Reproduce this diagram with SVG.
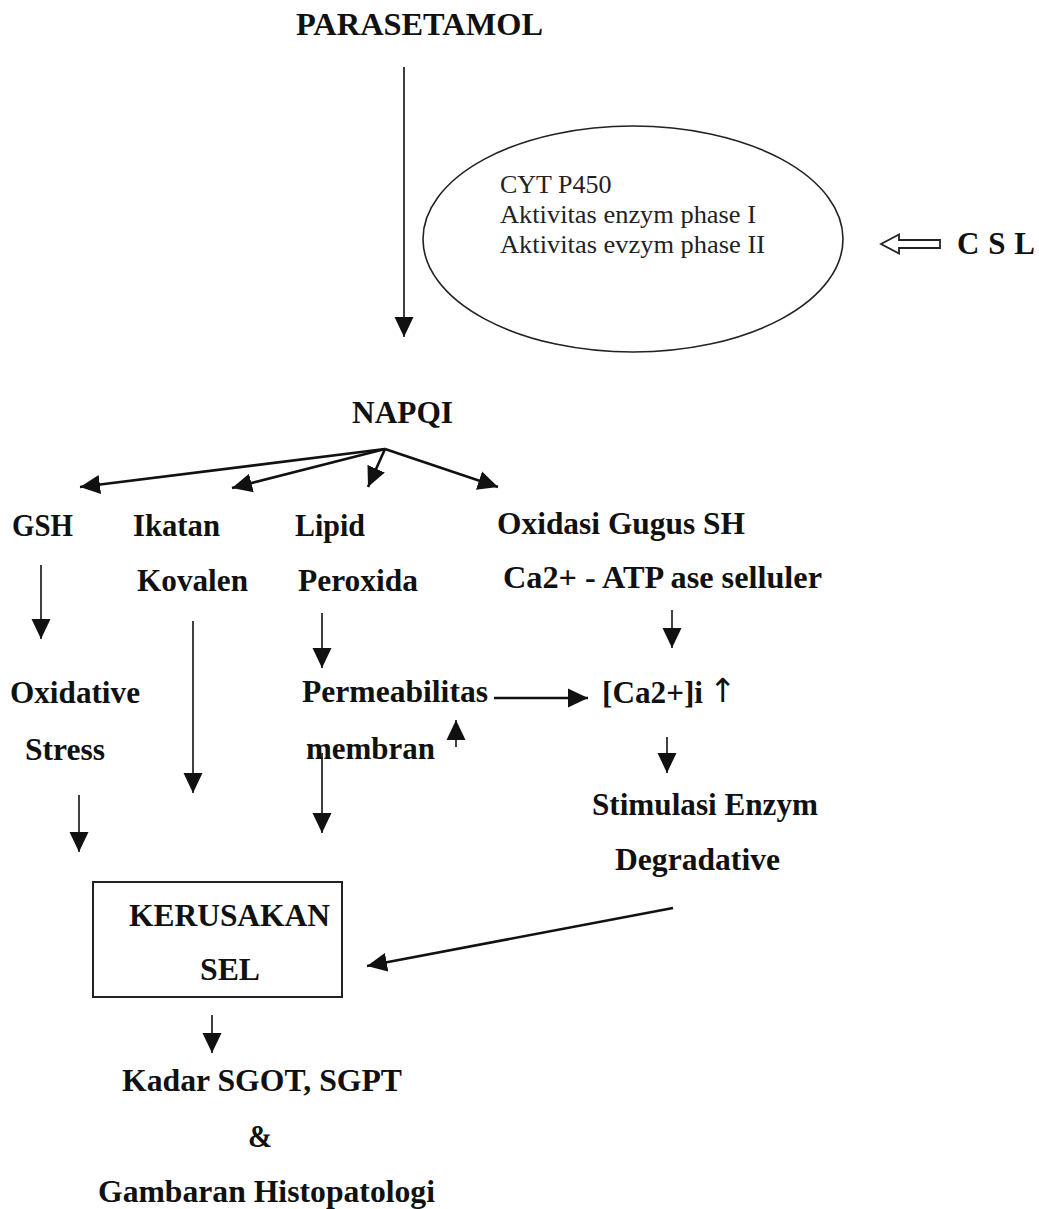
<svg xmlns="http://www.w3.org/2000/svg" width="1039" height="1209" viewBox="0 0 1039 1209">
<style>
.b{font-family:"Liberation Serif","Times New Roman",serif;font-weight:bold;font-size:31px;fill:#111}
.r{font-family:"Liberation Serif","Times New Roman",serif;font-size:26px;fill:#222}
.ln{stroke:#111;stroke-width:1.6;fill:none}
.th{stroke:#111;stroke-width:2.6;fill:none}
</style>
<defs>
<marker id="ah" viewBox="0 0 20 20" refX="20" refY="10" markerWidth="20" markerHeight="20" markerUnits="userSpaceOnUse" orient="auto"><path d="M0,0.5 L20,10 L0,19.5 z" fill="#111"/></marker>
</defs>
<rect width="1039" height="1209" fill="#fff"/>

<g id="parasetamol"><text class="b" x="296" y="35" font-size="32" textLength="247" lengthAdjust="spacingAndGlyphs">PARASETAMOL</text></g>

<g id="enzim">
<ellipse cx="633" cy="239" rx="210" ry="113" fill="none" stroke="#222" stroke-width="1.6"/>
<text class="r" x="500" y="193">CYT P450</text>
<text class="r" x="500" y="223" textLength="256" lengthAdjust="spacingAndGlyphs">Aktivitas enzym phase I</text>
<text class="r" x="500" y="253" textLength="265" lengthAdjust="spacingAndGlyphs">Aktivitas evzym phase II</text>
</g>

<g id="csl"><text class="b" x="957" y="254" font-size="29" textLength="78" lengthAdjust="spacing">C S L</text></g>

<g id="napqi"><text class="b" x="352" y="423" textLength="101" lengthAdjust="spacingAndGlyphs">NAPQI</text></g>

<g id="gsh"><text class="b" x="12" y="536" textLength="61" lengthAdjust="spacingAndGlyphs">GSH</text></g>
<g id="ikatan">
<text class="b" x="133" y="536" textLength="87" lengthAdjust="spacingAndGlyphs">Ikatan</text>
<text class="b" x="137" y="591" textLength="111" lengthAdjust="spacingAndGlyphs">Kovalen</text>
</g>
<g id="lipid">
<text class="b" x="295" y="536" textLength="70" lengthAdjust="spacingAndGlyphs">Lipid</text>
<text class="b" x="298" y="591" textLength="120" lengthAdjust="spacingAndGlyphs">Peroxida</text>
</g>
<g id="oxidasi">
<text class="b" x="497" y="534" textLength="248" lengthAdjust="spacingAndGlyphs">Oxidasi Gugus SH</text>
<text class="b" x="503" y="588" textLength="319" lengthAdjust="spacingAndGlyphs">Ca2+ - ATP ase selluler</text>
</g>
<g id="oxstress">
<text class="b" x="10" y="703" textLength="130" lengthAdjust="spacingAndGlyphs">Oxidative</text>
<text class="b" x="25" y="760" textLength="80" lengthAdjust="spacingAndGlyphs">Stress</text>
</g>
<g id="permeabilitas">
<text class="b" x="302" y="702" textLength="186" lengthAdjust="spacingAndGlyphs">Permeabilitas</text>
<text class="b" x="306" y="759" textLength="129" lengthAdjust="spacingAndGlyphs">membran</text>
</g>
<g id="ca">
<text class="b" x="602" y="703" textLength="101" lengthAdjust="spacingAndGlyphs">[Ca2+]i</text>
<text x="709" y="702" font-family="'DejaVu Sans',sans-serif" font-size="33" fill="#111">↑</text>
</g>
<g id="stimulasi">
<text class="b" x="592" y="815" textLength="226" lengthAdjust="spacingAndGlyphs">Stimulasi Enzym</text>
<text class="b" x="615" y="870" textLength="165" lengthAdjust="spacingAndGlyphs">Degradative</text>
</g>
<g id="kerusakan">
<rect x="93" y="882" width="249" height="115" fill="none" stroke="#222" stroke-width="2"/>
<text class="b" x="129" y="926" textLength="201" lengthAdjust="spacingAndGlyphs">KERUSAKAN</text>
<text class="b" x="200" y="980" textLength="60" lengthAdjust="spacingAndGlyphs">SEL</text>
</g>
<g id="hasil">
<text class="b" x="122" y="1091" textLength="280" lengthAdjust="spacingAndGlyphs">Kadar SGOT, SGPT</text>
<text class="b" x="248" y="1147" textLength="24" lengthAdjust="spacingAndGlyphs">&amp;</text>
<text class="b" x="98" y="1202" textLength="337" lengthAdjust="spacingAndGlyphs">Gambaran Histopatologi</text>
</g>

<g id="connectors">
<line class="ln" x1="404" y1="67" x2="404" y2="337" marker-end="url(#ah)"/>
<polygon points="881,244 899,234.5 899,240 940,240 940,248 899,248 899,253.5" fill="#fff" stroke="#222" stroke-width="1.8"/>
<line class="th" x1="385" y1="449" x2="80" y2="487" marker-end="url(#ah)"/>
<line class="th" x1="385" y1="449" x2="232" y2="488" marker-end="url(#ah)"/>
<line class="th" x1="385" y1="449" x2="368" y2="487" marker-end="url(#ah)"/>
<line class="th" x1="385" y1="449" x2="498" y2="487" marker-end="url(#ah)"/>
<line class="ln" x1="41" y1="565" x2="41" y2="639" marker-end="url(#ah)"/>
<line class="ln" x1="193" y1="621" x2="193" y2="793" marker-end="url(#ah)"/>
<line class="ln" x1="322" y1="613" x2="322" y2="668" marker-end="url(#ah)"/>
<line class="ln" x1="672" y1="610" x2="672" y2="648" marker-end="url(#ah)"/>
<line class="th" x1="494" y1="698" x2="588" y2="698" marker-end="url(#ah)"/>
<line class="ln" x1="456" y1="747" x2="456" y2="720" marker-end="url(#ah)"/>
<line class="ln" x1="667" y1="737" x2="667" y2="773" marker-end="url(#ah)"/>
<line class="ln" x1="79" y1="795" x2="79" y2="852" marker-end="url(#ah)"/>
<line class="ln" x1="322" y1="753" x2="322" y2="833" marker-end="url(#ah)"/>
<line class="th" x1="673" y1="908" x2="367" y2="966" marker-end="url(#ah)"/>
<line class="ln" x1="212" y1="1015" x2="212" y2="1053" marker-end="url(#ah)"/>
</g>
</svg>
